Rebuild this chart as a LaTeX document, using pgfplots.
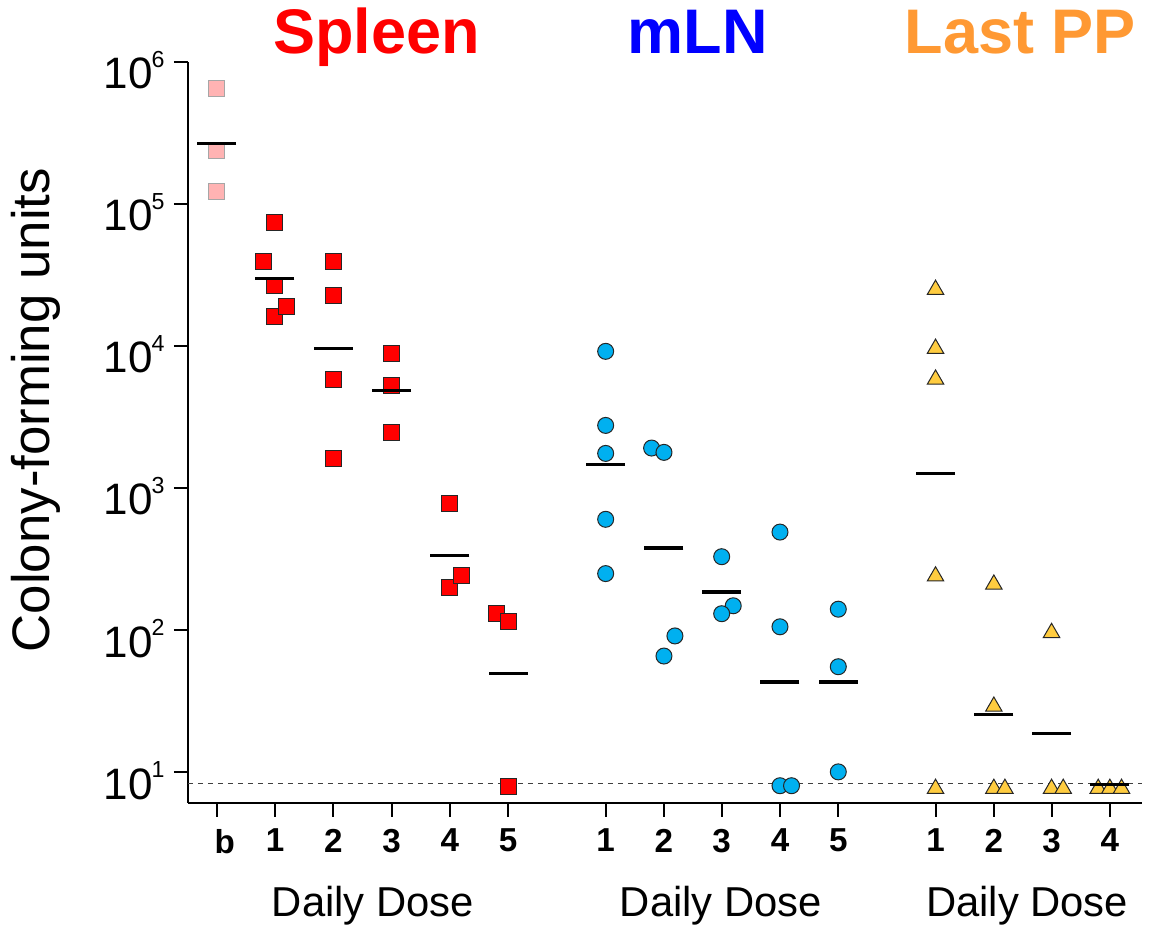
\documentclass[border=0pt]{standalone}
\usepackage{fontspec}
\setmainfont{Liberation Sans}
\usepackage{pgfplots}
\pgfplotsset{compat=1.18}
\definecolor{spl}{HTML}{FF0000}
\definecolor{mln}{HTML}{0000FF}
\definecolor{lpp}{HTML}{FF9933}
\definecolor{pinkm}{HTML}{FFB3B3}
\definecolor{bluem}{HTML}{00B0F0}
\definecolor{yelm}{HTML}{FFCC40}
\newcommand{\tl}[1]{10\kern-0.5pt\raisebox{10.8pt}{\fontsize{11.6pt}{12pt}\selectfont #1}}
\begin{document}
\begin{tikzpicture}
\begin{axis}[name=ax, scale only axis, width=476.85pt, height=370.35pt,
 ymode=log, xmin=-0.492, xmax=15.866, ymin=6.13, ymax=1e6,
 axis x line*=bottom, axis y line*=left, axis line style={line width=1pt,-},
 tick align=outside, major tick length=7pt, every tick/.style={black, line width=1pt},
 yminorticks=false, xminorticks=false,
 ytick={10,100,1000,10000,100000,1000000},
 yticklabels={\tl{1},\tl{2},\tl{3},\tl{4},\tl{5},\tl{6}},
 yticklabel style={font=\fontsize{22pt}{24pt}\selectfont, anchor=east, inner sep=0pt, xshift=-4.5pt, yshift=-4pt},
 xtick={0,1,2,3,4,5,6.672,7.672,8.662,9.662,10.662,12.33,13.33,14.32,15.32},
 xticklabels={\hspace*{8pt}b,1,2,3,4,5,1,2,3,4,5,1,2,3,4},
 xticklabel style={font=\fontsize{16.6pt}{18pt}\selectfont\bfseries, anchor=north, inner sep=0pt, yshift=-6pt},
 clip=false,
 spl/.style={only marks, mark=square*, mark size=4pt, mark options={fill=spl, draw=black!85, line width=0.5pt}},
 pnk/.style={only marks, mark=square*, mark size=4pt, mark options={fill=pinkm, draw=black!35, line width=0.5pt}},
 blu/.style={only marks, mark=*, mark size=4pt, mark options={fill=bluem, draw=black!85, line width=0.5pt}},
 yel/.style={only marks, mark=triangle*, mark size=4.75pt, mark options={fill=yelm, draw=black!85, line width=0.5pt, yshift=-1.2pt}},
 meanl/.style={only marks, mark=-, mark size=9.75pt, mark options={line width=1.6pt, draw=black}},
]
% detection limit
\addplot[black!75, line width=0.5pt, dash pattern=on 2.5pt off 2.5pt] coordinates {(-0.492,8.4) (15.866,8.4)};
% Spleen
\addplot[pnk] coordinates {(0,6.5e5) (0,2.38e5) (0,1.22e5)};
\addplot[spl] coordinates {
(1,7.4e4) (0.8,3.93e4) (1,2.68e4) (1,1.63e4) (1.2,1.9e4)
(2,3.93e4) (2,2.29e4) (2,5.85e3) (2,1.61e3)
(3,8.9e3) (3,5.25e3) (3,2.48e3)
(4,777) (4,201) (4.2,244)
(4.8,131) (5,116) (5,8.0)};
% mLN
\addplot[blu] coordinates {
(6.672,9.2e3) (6.672,2.77e3) (6.672,1.76e3) (6.672,605) (6.672,251)
(7.46,1.92e3) (7.672,1.79e3) (7.672,66) (7.86,91.4)
(8.662,330) (8.86,149) (8.662,131)
(9.662,492) (9.662,106) (9.662,8.07) (9.86,8.07)
(10.662,141) (10.662,55.5) (10.662,10.1)};
% Last PP
\addplot[yel] coordinates {
(12.33,2.6e4) (12.33,1.0e4) (12.33,6.07e3) (12.33,250) (12.33,8.0)
(13.33,219) (13.33,30.3) (13.33,8.0) (13.52,8.0)
(14.32,100) (14.32,8.0) (14.52,8.0)
(15.12,8.0) (15.32,8.0) (15.52,8.0)};
% means
\addplot[meanl] coordinates {
(0,2.68e5) (1,3.0e4) (2,9.66e3) (3,4.86e3) (4,338) (5,49.9)
(6.672,1.47e3) (7.672,380) (8.662,186) (9.662,43.4) (10.662,43.4)
(12.33,1.27e3) (13.33,25.7) (14.32,18.7) (15.32,8.2)};
% titles
\node[font=\fontsize{31.5pt}{34pt}\selectfont\bfseries, text=spl, anchor=base] at ([yshift=4.35pt]axis cs:2.74,1e6) {Spleen};
\node[font=\fontsize{31.5pt}{34pt}\selectfont\bfseries, text=mln, anchor=base] at ([yshift=4.35pt]axis cs:8.25,1e6) {mLN};
\node[font=\fontsize{31.5pt}{34pt}\selectfont\bfseries, text=lpp, anchor=base] at ([yshift=4.35pt]axis cs:13.78,1e6) {Last PP};
% x labels
\node[font=\fontsize{20.9pt}{22pt}\selectfont, anchor=base] at ([yshift=-57pt]axis cs:2.68,6.13) {Daily Dose};
\node[font=\fontsize{20.9pt}{22pt}\selectfont, anchor=base] at ([yshift=-57pt]axis cs:8.65,6.13) {Daily Dose};
\node[font=\fontsize{20.9pt}{22pt}\selectfont, anchor=base] at ([yshift=-57pt]axis cs:13.9,6.13) {Daily Dose};
% y label
\node[rotate=90, anchor=base, font=\fontsize{26.4pt}{28pt}\selectfont] at ([xshift=-69pt]rel axis cs:0,0.53) {Colony-forming units};
\coordinate (sw) at (rel axis cs:0,0);
\coordinate (ne) at (rel axis cs:1,1);
\end{axis}
\pgfresetboundingbox
\path ([shift={(-94pt,-61.65pt)}]sw) rectangle ([shift={(5.65pt,31pt)}]ne);
\end{tikzpicture}
\end{document}
